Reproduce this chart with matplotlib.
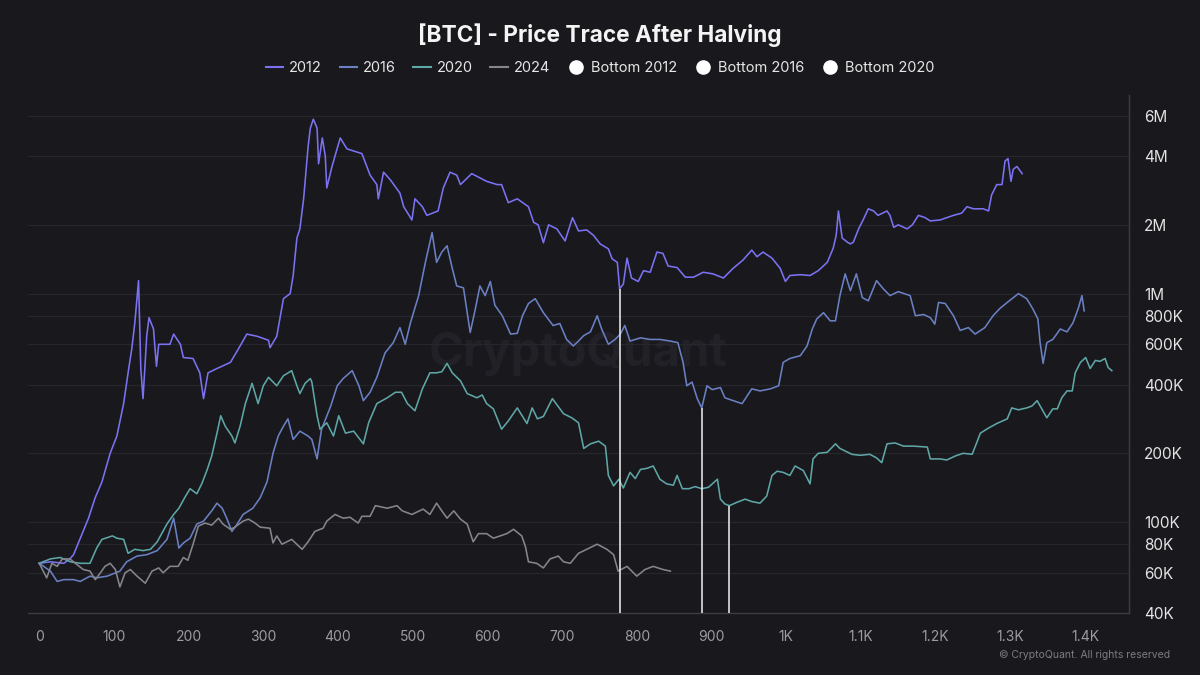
import matplotlib
matplotlib.use("Agg")
import matplotlib.pyplot as plt
from matplotlib.lines import Line2D
from matplotlib.ticker import FixedLocator, FuncFormatter, NullLocator

plt.rcParams['font.family'] = ['Inter', 'DejaVu Sans']

# ---------------- data (price in thousands, x = days after halving) -------------
days_2012 = [0, 15, 33, 41, 46, 55, 66, 75, 84, 95, 104, 113, 119, 124, 128, 133, 136, 139, 144, 147, 153, 157,
             160, 175, 180, 189, 193, 206, 215, 220, 226, 238, 256, 267, 278, 292, 307, 309, 318, 327, 336, 340,
             345, 349, 354, 357, 360, 363, 367, 372, 374, 379, 383, 385, 392, 403, 412, 432, 443, 452, 454, 461,
             470, 483, 488, 499, 503, 513, 519, 534, 541, 550, 559, 564, 579, 599, 613, 619, 628, 640, 655, 662,
             668, 675, 682, 693, 704, 714, 722, 733, 742, 751, 762, 767, 774, 777, 782, 787, 793, 802, 809, 818,
             827, 835, 842, 854, 865, 876, 889, 902, 916, 929, 942, 954, 961, 969, 981, 992, 999, 1005, 1019, 1032,
             1043, 1055, 1063, 1067, 1070, 1075, 1083, 1086, 1090, 1097, 1103, 1110, 1117, 1123, 1135, 1139, 1144, 1150, 1162, 1169,
             1177, 1186, 1193, 1206, 1224, 1235, 1242, 1251, 1264, 1271, 1275, 1282, 1289, 1293, 1297, 1301, 1304, 1309, 1316]
price_2012 = [66, 67, 66, 69, 72, 85, 104, 128, 150, 200, 238, 330, 450, 575, 745, 1140, 470, 347, 655, 785, 700, 480,
              600, 600, 665, 600, 525, 520, 450, 347, 450, 470, 500, 575, 665, 650, 625, 580, 650, 950, 1000, 1200,
              1750, 1920, 2600, 3400, 4400, 5300, 5800, 5300, 3700, 4800, 4000, 2900, 3600, 4800, 4300, 4100, 3300, 3000, 2600, 3400,
              3150, 2750, 2400, 2100, 2600, 2400, 2200, 2300, 2900, 3400, 3300, 3000, 3350, 3100, 3000, 3000, 2500, 2600, 2400, 2050,
              2000, 1670, 2000, 1920, 1700, 2150, 1880, 1900, 1800, 1650, 1570, 1420, 1370, 1050, 1100, 1430, 1170, 1130, 1260, 1240,
              1520, 1500, 1320, 1300, 1180, 1180, 1240, 1220, 1170, 1290, 1400, 1550, 1450, 1520, 1430, 1290, 1130, 1200, 1210, 1200,
              1260, 1370, 1580, 1800, 2300, 1750, 1670, 1650, 1680, 1920, 2100, 2350, 2300, 2200, 2300, 2200, 1950, 2000, 1920, 2000,
              2200, 2150, 2080, 2100, 2200, 2250, 2400, 2350, 2350, 2300, 2700, 3000, 3000, 3800, 3900, 3100, 3500, 3600, 3350]

days_2016 = [0, 15, 24, 33, 46, 55, 68, 77, 91, 108, 117, 131, 144, 158, 171, 180, 187, 193, 202, 211,
             220, 231, 238, 245, 251, 258, 265, 273, 286, 296, 305, 313, 320, 327, 333, 340, 349, 360, 365, 372,
             378, 390, 399, 407, 419, 428, 434, 443, 452, 463, 474, 483, 490, 497, 508, 517, 526, 532, 539, 546,
             553, 559, 568, 577, 584, 590, 597, 604, 610, 620, 631, 640, 647, 655, 664, 675, 688, 697, 706, 715,
             722, 729, 738, 747, 753, 762, 771, 778, 784, 791, 805, 818, 831, 845, 855, 862, 867, 874, 881, 887,
             894, 901, 912, 918, 929, 941, 954, 965, 979, 990, 996, 1005, 1019, 1028, 1035, 1041, 1050, 1059, 1066, 1072,
             1079, 1086, 1094, 1102, 1110, 1121, 1130, 1139, 1150, 1166, 1173, 1184, 1193, 1199, 1204, 1213, 1224, 1233, 1244, 1253,
             1266, 1277, 1286, 1296, 1311, 1322, 1330, 1337, 1340, 1344, 1349, 1357, 1367, 1376, 1384, 1391, 1396, 1399]
price_2016 = [66, 61, 55, 56, 56, 55, 58, 57, 58, 61, 67, 71, 72, 75, 84, 104, 77, 81, 85, 98,
              101, 112, 121, 115, 104, 91, 98, 108, 115, 128, 150, 200, 238, 263, 283, 230, 250, 238, 230, 189,
              255, 320, 395, 425, 460, 395, 340, 370, 430, 550, 610, 710, 600, 745, 980, 1370, 1850, 1370, 1520, 1620,
              1290, 1080, 1060, 675, 860, 1080, 980, 1130, 890, 800, 665, 670, 800, 905, 950, 825, 725, 740, 630, 590,
              620, 655, 680, 800, 700, 600, 630, 665, 725, 620, 640, 630, 630, 620, 610, 500, 395, 410, 347, 316,
              395, 380, 388, 350, 340, 330, 383, 375, 383, 395, 500, 520, 535, 590, 700, 775, 825, 760, 760, 980,
              1220, 1030, 1220, 960, 930, 1140, 1050, 980, 1020, 980, 800, 810, 785, 735, 915, 905, 800, 690, 710, 665,
              710, 800, 860, 915, 1000, 950, 860, 775, 610, 495, 610, 630, 700, 680, 745, 860, 980, 840]

days_2020 = [0, 15, 28, 42, 55, 68, 77, 84, 98, 104, 113, 119, 128, 139, 149, 158, 171, 180, 187, 196,
             202, 211, 218, 225, 231, 238, 243, 249, 258, 262, 269, 276, 285, 293, 300, 307, 318, 327,
             338, 345, 349, 356, 363, 365, 372, 376, 385, 394, 401, 410, 421, 434, 441, 452, 466, 477, 485, 493,
             503, 513, 523, 532, 539, 546, 553, 564, 573, 586, 593, 599, 608, 619, 628, 640, 653, 660, 667, 675,
             687, 695, 702, 713, 722, 729, 738, 749, 758, 762, 769, 776, 782, 791, 798, 805, 814, 822, 831, 840,
             849, 854, 861, 870, 878, 887, 896, 908, 912, 918, 924, 934, 945, 954, 965, 974, 981, 988, 996, 1005,
             1012, 1023, 1032, 1036, 1043, 1055, 1066, 1072, 1088, 1099, 1112, 1121, 1128, 1135, 1146, 1157, 1170, 1189, 1193, 1206,
             1215, 1227, 1237, 1249, 1255, 1260, 1271, 1282, 1296, 1302, 1311, 1322, 1329, 1336, 1343, 1349, 1357, 1363, 1369, 1376,
             1383, 1387, 1394, 1401, 1407, 1414, 1420, 1427, 1431, 1436]
price_2020 = [66, 69, 70, 67, 66, 66, 77, 84, 87, 85, 84, 73, 76, 75, 76, 82, 98, 108, 115, 130,
              140, 133, 148, 170, 195, 245, 292, 263, 238, 222, 263, 330, 405, 330, 395, 430, 395, 437,
              460, 395, 365, 405, 425, 410, 292, 255, 272, 238, 292, 245, 250, 220, 272, 330, 350, 370, 370, 330,
              307, 383, 450, 450, 455, 495, 450, 415, 365, 350, 360, 330, 313, 255, 277, 316, 270, 316, 283, 290,
              347, 320, 298, 286, 272, 210, 220, 226, 215, 160, 144, 154, 141, 165, 155, 170, 172, 176, 154, 147,
              145, 160, 140, 140, 143, 140, 142, 154, 126, 120, 118, 122, 126, 123, 121, 130, 160, 167, 165, 160,
              176, 168, 147, 189, 200, 202, 220, 210, 198, 196, 198, 191, 182, 220, 222, 215, 215, 213, 189, 189,
              187, 195, 200, 198, 222, 245, 258, 270, 283, 316, 310, 316, 322, 340, 310, 286, 313, 313, 350, 375,
              375, 450, 500, 525, 470, 510, 505, 520, 475, 460]

days_2024 = [0, 10, 17, 24, 31, 41, 51, 59, 68, 75, 82, 88, 95, 102, 108, 115, 122, 131, 142, 151,
             160, 166, 175, 186, 193, 199, 206, 213, 222, 231, 240, 246, 256, 262, 273, 280, 287, 296, 309, 313,
             318, 325, 338, 352, 360, 369, 380, 385, 396, 407, 416, 427, 432, 443, 450, 466, 479, 486, 499, 514,
             523, 532, 539, 546, 555, 564, 573, 581, 588, 599, 608, 626, 635, 646, 651, 655, 666, 675, 684, 695,
             702, 711, 722, 733, 747, 760, 769, 775, 787, 800, 811, 822, 835, 845]
price_2024 = [66, 57, 66, 64, 69, 69, 65, 62, 61, 56, 60, 64, 66, 62, 52, 60, 62, 58, 54, 61,
              63, 60, 64, 64, 70, 68, 80, 96, 99, 97, 104, 98, 93, 95, 101, 103, 100, 95, 94, 81,
              87, 80, 84, 76, 82, 91, 94, 101, 108, 104, 105, 99, 106, 106, 118, 115, 118, 112, 108, 114,
              108, 121, 112, 104, 112, 103, 98, 82, 89, 89, 85, 89, 93, 87, 78, 67, 66, 63, 69, 71,
              67, 66, 73, 76, 80, 76, 72, 61, 64, 58, 62, 64, 62, 61]

bottom_days = [777, 887, 924]
bottom_prices = [1050, 316, 118]

series_labels = ['2012', '2016', '2020', '2024']
bottom_labels = ['Bottom 2012', 'Bottom 2016', 'Bottom 2020']
y_ticks = [40, 60, 80, 100, 200, 400, 600, 800, 1000, 2000, 4000, 6000]
x_ticks = list(range(0, 1401, 100))

# ---------------- style ----------------
BG = '#18181d'
colors = ['#7b72f2', '#6a80c2', '#5fa6a6', '#85858d']
Y_MIN, Y_MAX = 40, 7400

fig = plt.figure(figsize=(12, 6.75), dpi=100, facecolor=BG)
ax = fig.add_axes([28 / 1200, 1 - 613 / 675, (1129 - 28) / 1200, (613 - 95) / 675])
ax.set_facecolor(BG)

ax.text(0.5, 0.5, 'CryptoQuant', transform=ax.transAxes, ha='center', va='center',
        fontsize=34, fontweight='bold', color='#212127', zorder=0)

ax.set_yscale('log')
ax.set_ylim(Y_MIN, Y_MAX)
ax.set_xlim(-15, 1459)

for d, p, c in zip([days_2012, days_2016, days_2020, days_2024],
                   [price_2012, price_2016, price_2020, price_2024], colors):
    ax.plot(d, p, color=c, lw=1.15, zorder=3)

ax.vlines(bottom_days, Y_MIN, bottom_prices, color='#f2f2f2', lw=1.1, zorder=4)

ax.yaxis.set_major_locator(FixedLocator(y_ticks))
ax.yaxis.set_minor_locator(NullLocator())
ax.yaxis.set_major_formatter(FuncFormatter(
    lambda v, _: (f"{v/1000:g}M" if v >= 1000 else f"{v:g}K")))
ax.yaxis.tick_right()
ax.tick_params(axis='y', length=0, pad=11, labelsize=11, labelcolor='#e4e4e4')
ax.grid(axis='y', color='#26262c', lw=0.9, zorder=1)

ax.xaxis.set_major_locator(FixedLocator(x_ticks))
ax.xaxis.set_major_formatter(FuncFormatter(
    lambda v, _: (f"{v/1000:g}K" if v >= 1000 else f"{v:g}")))
ax.tick_params(axis='x', length=0, pad=12, labelsize=10, labelcolor='#9c9ca2')

for s in ['top', 'left']:
    ax.spines[s].set_visible(False)
for s in ['bottom', 'right']:
    ax.spines[s].set_color('#3c3c44')
    ax.spines[s].set_linewidth(1)

fig.text(0.5, 1 - 35 / 675, '[BTC] - Price Trace After Halving', ha='center', va='center',
         fontsize=16.3, fontweight='bold', color='#f4f4f4')

handles = [Line2D([], [], color=c, lw=1.5) for c in colors]
handles += [Line2D([], [], marker='o', linestyle='none', markersize=9.5,
                   markerfacecolor='white', markeredgecolor='white') for _ in bottom_labels]
fig.legend(handles, series_labels + bottom_labels, loc='center',
           bbox_to_anchor=(0.5, 1 - 68 / 675), ncol=7, frameon=False, fontsize=10.5,
           handlelength=1.2, handletextpad=0.4, columnspacing=1.2, labelcolor='#e6e6e6')

fig.text(1170 / 1200, 1 - 655 / 675, '\u00a9 CryptoQuant. All rights reserved', ha='right',
         va='center', fontsize=7.5, color='#7c7c82')

fig.savefig('out.png', dpi=100, facecolor=BG)
